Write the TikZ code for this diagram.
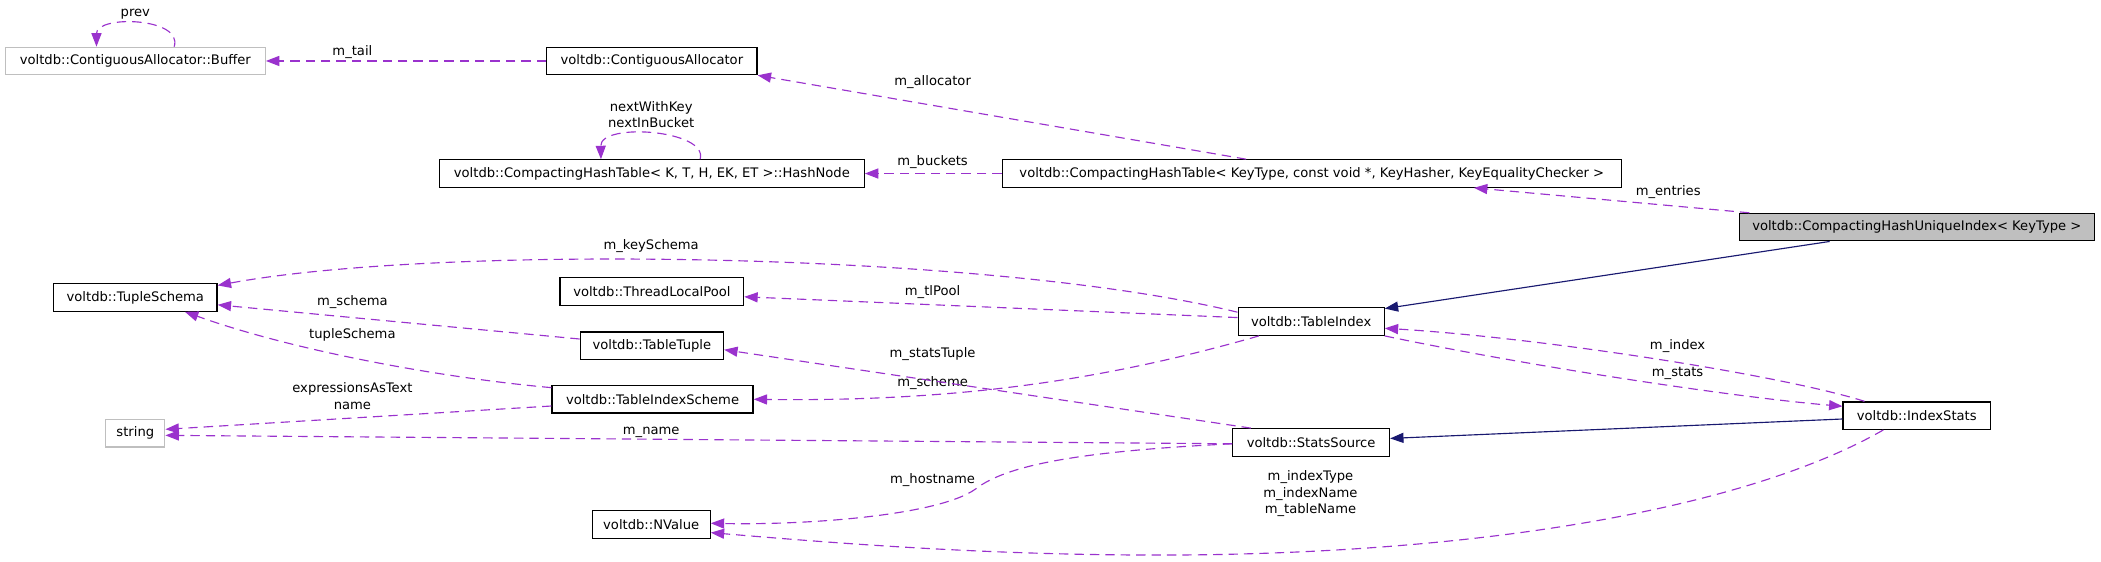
\documentclass[tikz,border=0pt]{standalone}
\usepackage{fontspec}
\setmainfont{DejaVu Sans}
\usetikzlibrary{arrows.meta}
\definecolor{orchid}{HTML}{9A32CD}
\definecolor{navyblue}{HTML}{191970}
\definecolor{greyline}{HTML}{BFBFBF}
\begin{document}
\begin{tikzpicture}[x=1pt,y=-1pt,
  font=\fontsize{9.8}{12.5}\selectfont,
  cls/.style={draw=black, line width=0.9pt, fill=white, inner sep=0pt, minimum height=20.5pt},
  extcls/.style={cls, draw=greyline},
  mainclass/.style={cls, fill=greyline},
  mem/.style={draw=orchid, line width=0.85pt, dash pattern=on 7pt off 4.5pt, -{Triangle[length=10pt,width=7.5pt,fill=orchid]}},
  inh/.style={draw=navyblue, line width=0.85pt, -{Triangle[length=10pt,width=7.5pt,fill=navyblue]}},
  lbl/.style={inner sep=0pt}]
\useasboundingbox (0,0) rectangle (1568,418.7);
% nodes
\node[extcls, minimum width=194pt] (buf) at (101,45.5) {voltdb::ContiguousAllocator::Buffer};
\node[cls, minimum width=157pt] (ca) at (486.5,45.5) {voltdb::ContiguousAllocator};
\node[cls, minimum width=462pt] (ht) at (979,129.5) {voltdb::CompactingHashTable< KeyType, const void *, KeyHasher, KeyEqualityChecker >};
\node[cls, minimum width=317pt] (hn) at (486.5,129.5) {voltdb::CompactingHashTable< K, T, H, EK, ET >::HashNode};
\node[mainclass, minimum width=265pt] (chui) at (1430.5,169.5) {voltdb::CompactingHashUniqueIndex< KeyType >};
\node[cls, minimum width=109pt] (ti) at (978.5,240) {voltdb::TableIndex};
\node[cls, minimum width=122pt] (ts) at (101,222) {voltdb::TupleSchema};
\node[cls, minimum width=137pt] (tlp) at (486.5,217.5) {voltdb::ThreadLocalPool};
\node[cls, minimum width=107pt] (tt) at (486.5,258) {voltdb::TableTuple};
\node[cls, minimum width=150pt] (tis) at (487,298) {voltdb::TableIndexScheme};
\node[extcls, minimum width=44pt] (str) at (101,323.4) {string};
\node[cls, minimum width=117pt] (ss) at (978.5,330.2) {voltdb::StatsSource};
\node[cls, minimum width=110pt] (is) at (1430.5,310.2) {voltdb::IndexStats};
\node[cls, minimum width=88pt] (nv) at (486,391.5) {voltdb::NValue};
% edges
\draw[mem] (ca.west) -- (buf.east);
\node[lbl] (lt) at (263,38.5) {m\_tail};
\draw[mem] ([xshift=29pt]buf.north) .. controls (137,13) and (72,11) .. ([xshift=-29pt]buf.north);
\node[lbl] (lprev) at (101,10.5) {prev};
\draw[mem] (ht.west) -- (hn.east);
\node[lbl] (lbk) at (696,121) {m\_buckets};
\draw[mem] ([xshift=36pt]hn.north) .. controls (529,97) and (448,91) .. ([xshift=-38pt]hn.north);
\node[lbl, align=center] (lnk) at (486,85.5) {nextWithKey\\nextInBucket};
\draw[mem] ([xshift=-49pt]ht.north) -- (ca.south east);
\node[lbl] (lal) at (696,61) {m\_allocator};
\draw[mem] ([xshift=-125pt]chui.north) -- ([xshift=121pt]ht.south);
\node[lbl] (len) at (1245,143.5) {m\_entries};
\draw[inh] ([xshift=-65pt]chui.south) -- ([yshift=-1pt]ti.north east);
\draw[mem] ([yshift=7pt]ti.west) .. controls (740,188) and (330,182) .. ([yshift=9pt]ts.east);
\node[lbl] (lks) at (486,183.8) {m\_keySchema};
\draw[mem] ([yshift=3pt]ti.west) -- ([yshift=-4pt]tlp.east);
\node[lbl] (ltl) at (696,218) {m\_tlPool};
\draw[mem] ([yshift=5pt]tt.west) -- ([yshift=-5.5pt]ts.east);
\node[lbl] (lsc) at (263,225.7) {m\_schema};
\draw[mem] ([yshift=-2pt]tis.north west) .. controls (330,282) and (220,262) .. ([xshift=37pt]ts.south);
\node[lbl] (ltsc) at (263,250) {tupleSchema};
\draw[mem] ([yshift=-5pt]tis.west) -- ([yshift=3pt]str.east);
\node[lbl, align=center] (lex) at (263,295.5) {expressionsAsText\\name};
\draw[mem] ([xshift=-39pt]ti.south) .. controls (830,282) and (720,300) .. (tis.east);
\node[lbl] (lsh) at (696,286) {m\_scheme};
\draw[mem] ([xshift=-45pt]ss.north) -- ([yshift=-3pt]tt.east);
\node[lbl] (lst) at (696,264) {m\_statsTuple};
\draw[mem] ([yshift=-1pt]ss.west) -- ([yshift=-1.5pt]str.east);
\node[lbl] (lnm) at (486,322.8) {m\_name};
\draw[mem] ([yshift=-1pt]ss.west) .. controls (800,337) and (750,348) .. (728,365) .. controls (700,385) and (600,392) .. ([yshift=1pt]nv.east);
\node[lbl] (lhn) at (696,358) {m\_hostname};
\draw[mem] ([xshift=-25pt]is.south) .. controls (1320,370) and (1150,410) .. (900,414) .. controls (750,416) and (620,405) .. ([yshift=-6pt]nv.east);
\node[lbl, align=center] (lit) at (978,368.5) {m\_indexType\\m\_indexName\\m\_tableName};
\draw[mem] ([xshift=-39pt]is.north) .. controls (1330,280) and (1150,252) .. ([yshift=-5pt]ti.east);
\node[lbl] (lix) at (1252,258) {m\_index};
\draw[mem] (ti.south east) .. controls (1150,275) and (1300,297) .. ([yshift=7pt]is.west);
\node[lbl] (lss) at (1252,279) {m\_stats};
\draw[inh] ([yshift=-2.5pt]is.west) -- ([yshift=3pt]ss.east);
\end{tikzpicture}
\end{document}
